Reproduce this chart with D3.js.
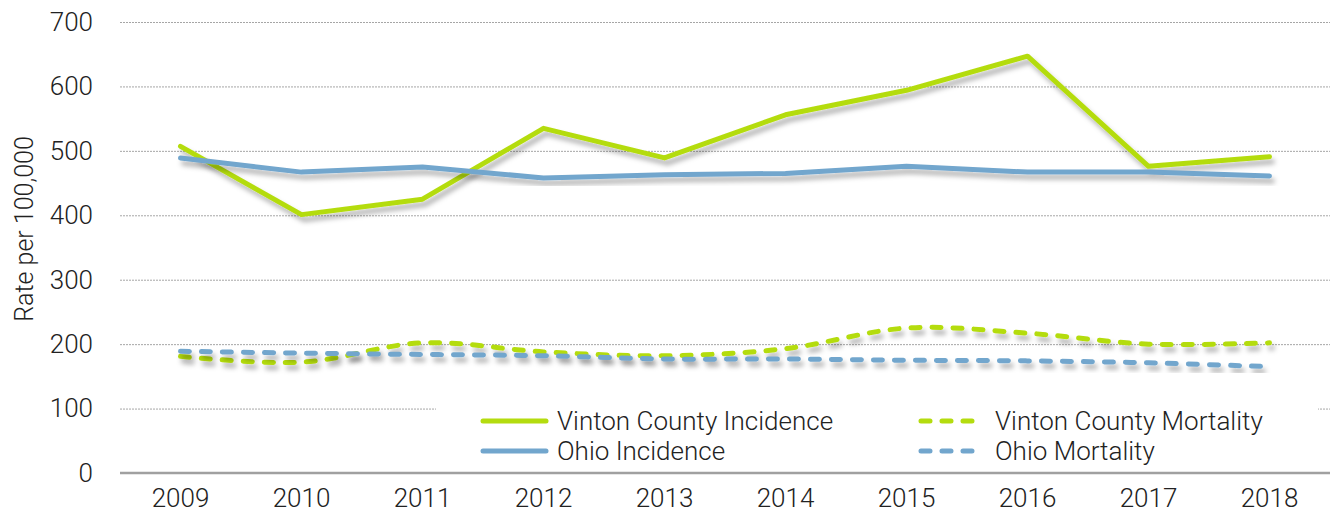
<!DOCTYPE html>
<meta charset="utf-8">
<style>
    body { margin: 0; background: #fff; }
    text { font-family: Roboto, "Liberation Sans", sans-serif; font-weight: 300; fill: #222; }
    .grid line { stroke: #a6a6a6; stroke-width: 1; stroke-dasharray: 2,1; }
</style>
<svg width="1330" height="523"></svg>
<script src="https://cdn.jsdelivr.net/npm/d3@7"></script>
<script>

    // data
    var years = ["2009", "2010", "2011", "2012", "2013", "2014", "2015", "2016", "2017", "2018"];
    var vintonIncidence = [507, 401, 425, 535, 489, 556, 594, 647, 476, 491];
    var ohioIncidence = [489, 467, 475, 458, 463, 465, 476, 467, 467, 461];
    var vintonMortality = [181, 172, 202, 188, 182, 193, 225, 217, 200, 202];
    var ohioMortality = [189, 186, 184, 182, 177, 177, 175, 174, 171, 165];
    var yTicks = [0, 100, 200, 300, 400, 500, 600, 700];

    var series = [
        {name: "Vinton County Incidence", values: vintonIncidence, color: "#b4dc0f", dashed: false},
        {name: "Ohio Incidence", values: ohioIncidence, color: "#72a6cd", dashed: false},
        {name: "Vinton County Mortality", values: vintonMortality, color: "#b4dc0f", dashed: true},
        {name: "Ohio Mortality", values: ohioMortality, color: "#72a6cd", dashed: true}
    ];

    var svg = d3.select("svg");
    var plotLeft = 120, plotRight = 1330, plotTop = 22, plotBottom = 473;

    var x = d3.scaleBand().domain(years).range([plotLeft, plotRight]);
    var y = d3.scaleLinear().domain([0, 700]).range([plotBottom, plotTop]);

    // drop shadow like the spreadsheet lines
    var defs = svg.append("defs");
    var f = defs.append("filter").attr("id", "shadow")
        .attr("x", "-5%").attr("y", "-20%").attr("width", "110%").attr("height", "160%");
    f.append("feDropShadow").attr("dx", 3).attr("dy", 5).attr("stdDeviation", 2.5)
        .attr("flood-color", "#000").attr("flood-opacity", 0.3);

    // gridlines
    svg.append("g").attr("class", "grid")
        .selectAll("line")
        .data(yTicks.filter(function (d) { return d > 0; }))
        .enter().append("line")
        .attr("x1", plotLeft).attr("x2", plotRight)
        .attr("y1", function (d) { return y(d) + 0.5; })
        .attr("y2", function (d) { return y(d) + 0.5; });

    // y axis labels
    var yAxis = svg.append("g")
        .attr("transform", "translate(" + (plotLeft - 27) + ",0)")
        .call(d3.axisLeft(y).tickValues(yTicks).tickSize(0).tickPadding(0));
    yAxis.select(".domain").remove();
    yAxis.selectAll("text").style("font-size", "26px").attr("fill", "#222");

    // x axis
    var xAxis = svg.append("g")
        .attr("transform", "translate(0," + plotBottom + ")")
        .call(d3.axisBottom(x).tickSize(0).tickPadding(16));
    xAxis.select(".domain").remove();
    xAxis.selectAll("text").style("font-size", "26px").attr("fill", "#222");

    svg.append("text")
        .attr("transform", "translate(33,229) rotate(-90)")
        .attr("text-anchor", "middle")
        .style("font-size", "25px")
        .text("Rate per 100,000");

    // lines
    var linear = d3.line()
        .x(function (d, i) { return x(years[i]) + x.bandwidth() / 2; })
        .y(function (d) { return y(d); });
    var smooth = d3.line()
        .x(function (d, i) { return x(years[i]) + x.bandwidth() / 2; })
        .y(function (d) { return y(d); })
        .curve(d3.curveCatmullRom.alpha(0.5));

    svg.append("g").selectAll("path")
        .data(series)
        .enter().append("path")
        .attr("d", function (d) { return d.dashed ? smooth(d.values) : linear(d.values); })
        .attr("fill", "none")
        .attr("stroke", function (d) { return d.color; })
        .attr("stroke-width", 5)
        .attr("stroke-linecap", "round")
        .attr("stroke-linejoin", "round")
        .attr("stroke-dasharray", function (d) { return d.dashed ? "9,12" : null; })
        .attr("filter", "url(#shadow)");

    // legend box covers part of the gridlines
    var legend = svg.append("g");
    legend.append("rect")
        .attr("x", 436).attr("y", 391).attr("width", 882).attr("height", 80)
        .attr("fill", "#fff");

    var legendPos = [
        {s: series[0], lx: 480, ly: 421},
        {s: series[1], lx: 480, ly: 451},
        {s: series[2], lx: 918, ly: 421},
        {s: series[3], lx: 918, ly: 451}
    ];
    var item = legend.selectAll("g.item")
        .data(legendPos)
        .enter().append("g").attr("class", "item");
    item.append("line")
        .attr("x1", function (d) { return d.lx + 3; })
        .attr("x2", function (d) { return d.lx + 66; })
        .attr("y1", function (d) { return d.ly; })
        .attr("y2", function (d) { return d.ly; })
        .attr("stroke", function (d) { return d.s.color; })
        .attr("stroke-width", 5)
        .attr("stroke-linecap", "round")
        .attr("stroke-dasharray", function (d) { return d.s.dashed ? "9,12" : null; });
    item.append("text")
        .attr("x", function (d) { return d.lx + 77; })
        .attr("y", function (d) { return d.ly + 9; })
        .style("font-size", "26px")
        .text(function (d) { return d.s.name; });

    // baseline
    svg.append("line")
        .attr("x1", plotLeft).attr("x2", plotRight)
        .attr("y1", plotBottom).attr("y2", plotBottom)
        .attr("stroke", "#a0a0a0").attr("stroke-width", 2.5);

</script>
